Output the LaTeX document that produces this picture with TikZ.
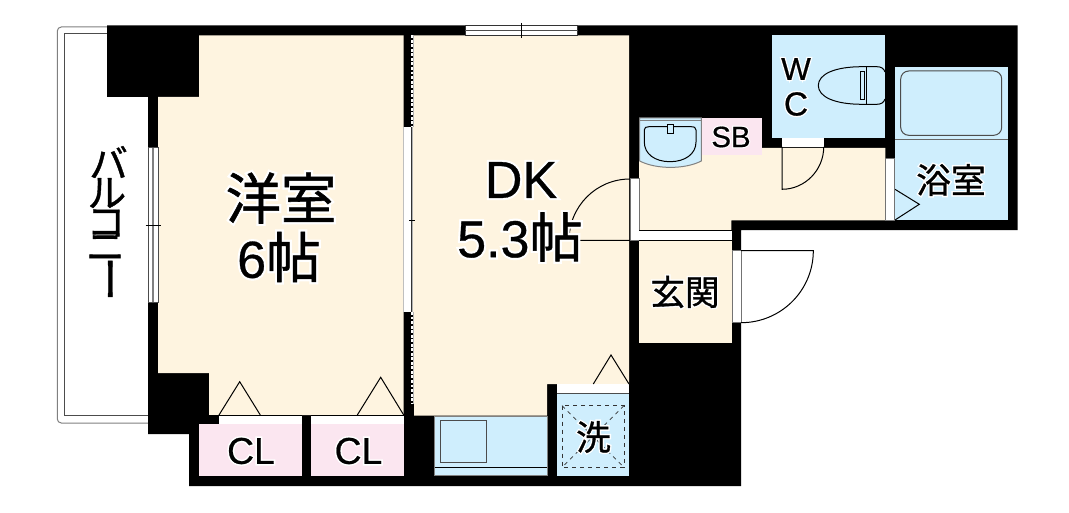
\documentclass[tikz,border=0pt]{standalone}
\usepackage{fontspec}
\usepackage{graphicx}
\setmainfont{Liberation Sans}
\newfontfamily\jpfont[FakeBold=1]{Noto Sans CJK JP}
\newfontfamily\latfont[FakeBold=0.6]{Liberation Sans}
\newfontfamily\jphalofont[FakeBold=9]{Noto Sans CJK JP}
\newfontfamily\lathalofont[FakeBold=9]{Liberation Sans}
\newif\ifhalo
\newcommand{\jp}{\ifhalo\jphalofont\else\jpfont\fi}
\newcommand{\lat}{\ifhalo\lathalofont\else\latfont\fi}
\newcommand{\halo}[1]{\makebox[0pt][l]{\halotrue\color{white}#1}#1}
\newcommand{\fs}[1]{\fontsize{#1}{#1}\selectfont}
\newcommand{\vchar}[2]{\makebox[#1pt]{\rotatebox[origin=c]{90}{#2}}}
\definecolor{cream}{HTML}{FEF4E0}
\definecolor{bluewet}{HTML}{CFEEFD}
\definecolor{pinkcl}{HTML}{FBE6F0}
\tikzset{
  creamroom/.style={fill=cream},
  wetroom/.style={fill=bluewet},
  closetroom/.style={fill=pinkcl},
  doorstrip/.style={fill=white},
  stripedge/.style={draw=black!55},
  roomlabel/.style={inner sep=0pt,text=black}
}
\begin{document}
\begin{tikzpicture}[x=0.75pt,y=-0.75pt,line width=0.75pt]
\useasboundingbox (0,0) rectangle (1069,513);
%balcony
\draw[gray,rounded corners=3pt] (107,27)--(57.3,27)--(57.3,423)--(148,423);
\draw[black!70] (107,34)--(64.3,34)--(64.3,415.7)--(148,415.7);
%walls
\fill (107,25.5)--(1017.7,25.5)--(1017.7,230)--(741,230)--(741,486)--(189,486)--(189,434)--(148,434)--(148,97)--(107,97)--cycle;
%rooms
\fill[creamroom] (158,97)--(199,97)--(199,35.3)--(403.7,35.3)--(403.7,415)--(209,415)--(209,373)--(158,373)--cycle;
\fill[creamroom] (414,35.3)--(629,35.3)--(629,384)--(547,384)--(547,415.5)--(414,415.5)--cycle;
\fill[creamroom] (639,155)--(762,155)--(762,148)--(885.3,148)--(885.3,220.3)--(731.3,220.3)--(731.3,230.3)--(639,230.3)--cycle;
\fill[creamroom] (639,240.3) rectangle (731.7,342.7);
\fill[closetroom] (198.7,424) rectangle (301.7,476);
\fill[closetroom] (311.3,424) rectangle (403.7,476);
\fill[closetroom] (701.3,117.7) rectangle (762,155);
\fill[wetroom] (772.3,35.3) rectangle (885,138);
\fill[wetroom] (895,67) rectangle (1007.7,220.3);
\fill[wetroom] (557,393.3) rectangle (629,476);
\draw[wetroom,draw=black!50] (434.7,416) rectangle (547,475.7);
%kitchen
\draw[draw=black!70] (440,420) rectangle (486.7,462.3);
\draw (434.7,467.3)--(547,467.3);
%bath
\draw[black!60] (895,139.3)--(1007.7,139.3);
\draw[black!70,rounded corners=6pt] (900.7,71) rectangle (1001.7,135.3);
\draw (895,189.3)--(919.3,204.3)--(895,220);
%washbasin
\draw[wetroom,draw=black!50] (639.7,118)--(701.3,118)--(701.3,161) .. controls (685,169.5) and (656,169.5) .. (639.7,161)--cycle;
\draw[black!50] (639.7,120.3)--(701.3,120.3);
\draw (644.3,130) .. controls (644.3,127.5) and (646,126.7) .. (649,126.7)--(691,126.7) .. controls (694.3,126.7) and (696,127.5) .. (696,130)--(696,142) .. controls (696,154) and (685,161.7) .. (670,161.7) .. controls (655,161.7) and (644.3,154) .. (644.3,142)--cycle;
\draw[fill=bluewet] (667.7,124.3) rectangle (673.3,134);
%toilet
\draw (885,72) .. controls (884,68.5) and (881,66.7) .. (877,66.7)--(862,66.7) .. controls (835,66.7) and (818.3,74) .. (818.3,85.5) .. controls (818.3,97) and (835,104.3) .. (862,104.3)--(877,104.3) .. controls (881,104.3) and (884,102.5) .. (885,99);
\draw (866.7,66.7)--(866.7,104.3);
\draw (860.5,71.7) rectangle (864,100);
%window balcony side
\draw[doorstrip,draw=black!70] (148,148) rectangle (158,302.3);
\draw[gray,line width=1.8pt] (153,148)--(153,302.3);
\draw (145.7,225)--(160.7,225);
%window top
\draw[doorstrip,draw=black!80] (465,25.5) rectangle (577.7,35.3);
\draw[black!70] (465,30.4)--(577.7,30.4);
\draw (521.3,23)--(521.3,38);
%sliding door
\fill[white] (403.7,127.3) rectangle (411,312);
\draw[black!25] (403.7,127.3)--(403.7,312);
\draw[black!80] (411,127.3)--(411,312);
\draw[black!30,line width=1pt] (412.7,127.3)--(412.7,312);
\fill[cream] (413.2,127.3) rectangle (414,312);
\draw[white,line width=1.5pt,dash pattern=on 2.2pt off 1.2pt] (411.6,35.3)--(411.6,127.3);
\draw[white,line width=1.5pt,dash pattern=on 2.2pt off 1.2pt] (411.6,312)--(411.6,404);
\draw[black!30,line width=0.5pt] (413.2,35.3)--(413.2,127.3);
\draw[black!30,line width=0.5pt] (413.2,312)--(413.2,404);
\draw (409,220)--(414.5,220);
%closets
\fill[doorstrip] (219,415) rectangle (301.7,424);
\fill[doorstrip] (311.3,415) rectangle (403.7,424);
\draw (209,415)--(301.7,415);
\draw (311.3,415)--(403.7,415);
\draw (219,415)--(239.7,381.7)--(260.3,415);
\draw (357.3,415)--(380.7,377.3)--(403.7,415);
%wash room
\fill[doorstrip] (557,384) rectangle (629,393.3);
\draw[black!70] (557,393.3)--(629,393.3);
\draw (593.3,384)--(611,355)--(629,384);
\draw[dashed,black!80] (562,405.7) rectangle (624,467.3);
\draw[dashed,black!80,line width=0.5pt] (562,405.7)--(624,467.3);
\draw[dashed,black!80,line width=0.5pt] (624,405.7)--(562,467.3);
%doors
\draw[doorstrip,stripedge] (630,179) rectangle (639,240.3);
\draw (630,179) .. controls (596.3,179) and (569,206.3) .. (569,240.3)--(630,240.3);
\fill[doorstrip] (639,230.3) rectangle (731.7,240.3);
\draw (639,230.3)--(731.7,230.3);
\draw (639,240.3)--(731.7,240.3);
\draw[doorstrip,stripedge] (732,250.7) rectangle (741,322.3);
\draw (741,250.7)--(813.3,250.7) .. controls (813.3,290.5) and (781,322.7) .. (741,322.7);
\fill[doorstrip] (782,138) rectangle (823.7,147);
\draw (823.7,147) .. controls (823.7,170) and (805,189.3) .. (782,189.3)--(782,147);
\draw[doorstrip,stripedge] (885.7,158.3) rectangle (894.3,220.3);
%labels
\node[roomlabel] (youshitsu) at (281,198) {\halo{\jp\fs{41.5}洋室}};
\node[roomlabel] (youshitsuarea) at (279,257) {\halo{\lat\fs{39}6\jp\fs{41}帖}};
\node[roomlabel] (dk) at (521,180) {\halo{\lat\fs{39}DK}};
\node[roomlabel] (dkarea) at (520,237) {\halo{\lat\fs{39}5.3\jp\fs{40}帖}};
\node[roomlabel] (cla) at (251,451) {\halo{\lat\fs{28}CL}};
\node[roomlabel] (clb) at (358.5,451) {\halo{\lat\fs{28}CL}};
\node[roomlabel] (sb) at (731,137) {\halo{\lat\fs{22}SB}};
\node[roomlabel] (wcw) at (796,69) {\halo{\lat\fs{23.5}W}};
\node[roomlabel] (wcc) at (796,104) {\halo{\lat\fs{25}C}};
\node[roomlabel] (yokushitsu) at (951,180) {\halo{\jp\fs{26}浴室}};
\node[roomlabel] (genkan) at (685,292) {\halo{\jp\fs{26}玄関}};
\node[roomlabel] (sentaku) at (593.5,437) {\halo{\jp\fs{26}洗}};
\node[roomlabel,font=\jpfont\fs{29},rotate=-90] (balcony) at (107,223) {\vchar{23.25}{バ}\vchar{23.25}{ル}\vchar{21.75}{コ}\vchar{15.75}{ニ}\makebox[30.75pt]{\fs{34}ー}};
\end{tikzpicture}
\end{document}
